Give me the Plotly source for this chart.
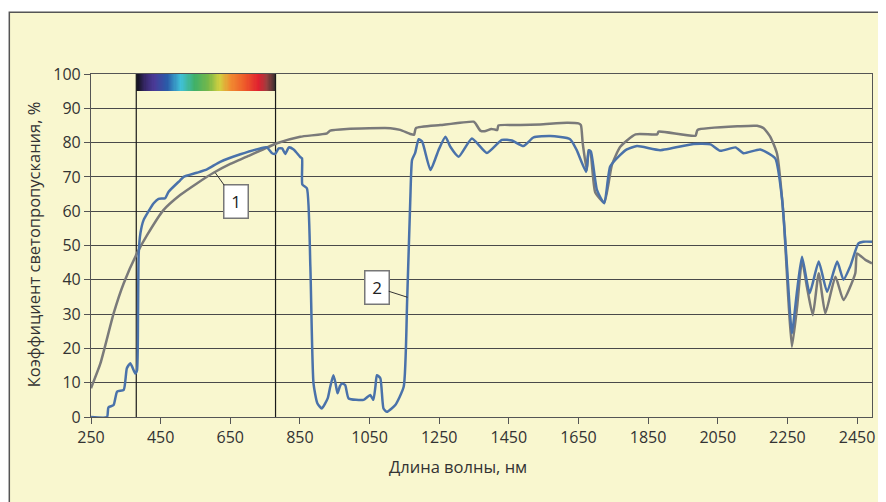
import plotly.graph_objects as go
import numpy as np

# Curve 1 (gray)
x1 = [250, 277, 315, 344, 382, 411, 458, 506, 554, 602, 650, 698, 784, 851, 928, 937, 985,
      1110, 1138, 1167, 1178, 1183, 1253, 1349, 1355, 1368, 1380, 1400, 1410, 1417, 1420,
      1483, 1540, 1617, 1650, 1657, 1662, 1674, 1679, 1684, 1698, 1724, 1746, 1770, 1814,
      1876, 1880, 1986, 1992, 2115, 2163, 2182, 2201, 2220, 2239, 2253, 2263, 2278, 2292,
      2306, 2323, 2340, 2359, 2388, 2411, 2445, 2450, 2474, 2493]
y1 = [8.4, 15.6, 30.2, 39.0, 47.7, 53.0, 60.3, 64.7, 68.1, 71.2, 73.8, 75.9, 79.8, 81.7, 82.7, 83.5, 84.0,
      84.2, 83.7, 82.5, 82.3, 84.2, 85.1, 86.1, 85.5, 83.5, 83.3, 84.0, 83.8, 83.7, 85.0,
      85.1, 85.3, 85.8, 85.6, 85.1, 80.0, 72.0, 77.8, 77.5, 65.5, 62.5, 73.5, 78.8, 82.4,
      82.4, 83.2, 82.0, 83.7, 84.8, 84.9, 84.2, 81.7, 76.9, 58.4, 34.0, 20.5, 32.2, 45.8,
      38.0, 29.7, 41.9, 30.2, 40.9, 34.1, 41.9, 47.7, 45.8, 44.8]

# Curve 2 (blue)
x2 = [250, 296, 300, 315, 325, 344, 353, 363, 377, 382, 385, 387, 392, 401, 430, 444, 463, 473,
      506, 516, 554, 583, 621, 679, 736, 755, 770, 779, 789, 799, 808, 818, 832, 851, 856, 857,
      870, 880, 889, 900, 913, 930, 937, 946, 952, 958, 965, 971, 980, 990, 1033, 1052, 1061,
      1067, 1071, 1081, 1090, 1100, 1124, 1148, 1158, 1167, 1172, 1181, 1191, 1201, 1225, 1248,
      1268, 1282, 1306, 1344, 1387, 1430, 1459, 1492, 1521, 1569, 1626, 1645, 1672, 1680, 1686,
      1703, 1724, 1741, 1770, 1789, 1818, 1885, 1981, 2029, 2057, 2101, 2124, 2172, 2215, 2235,
      2249, 2263, 2278, 2292, 2314, 2340, 2364, 2393, 2411, 2430, 2454, 2468, 2493]
y2 = [0.0, 0.0, 2.8, 3.5, 7.4, 7.9, 14.2, 15.7, 12.7, 13.5, 30.0, 47.7, 53.6, 57.4, 62.3, 63.6, 63.8, 65.7,
      69.0, 70.0, 71.2, 72.2, 74.4, 76.6, 78.3, 78.6, 76.9, 76.7, 78.3, 78.3, 76.7, 78.6, 78.0, 75.8, 75.4, 67.8,
      66.7, 43.8, 9.8, 4.0, 2.5, 5.5, 8.8, 12.2, 10.0, 6.9, 9.0, 9.8, 9.3, 5.4, 5.0, 6.4, 5.0,
      9.0, 12.2, 11.3, 2.5, 1.5, 3.5, 8.8, 34.1, 63.3, 74.9, 77.0, 81.0, 80.3, 72.0, 77.8,
      81.7, 78.8, 75.9, 81.2, 77.0, 80.8, 80.6, 79.0, 81.5, 81.9, 81.0, 77.8, 71.5, 77.8, 77.3,
      66.2, 62.3, 73.0, 76.4, 78.0, 79.0, 77.8, 79.6, 79.5, 77.6, 78.6, 76.9, 78.0, 75.4, 63.3,
      43.8, 24.4, 37.0, 46.7, 36.1, 45.3, 36.5, 45.3, 40.0, 43.8, 50.6, 51.1, 51.1]

x_ticks = [250, 450, 650, 850, 1050, 1250, 1450, 1650, 1850, 2050, 2250, 2450]
y_ticks = [0, 10, 20, 30, 40, 50, 60, 70, 80, 90, 100]
visible_range = [380, 780]
spectrum_band = [95, 100]

FONT = "Open Sans"
fig = go.Figure()

# visible range borders
for xv in visible_range:
    fig.add_trace(go.Scatter(x=[xv, xv], y=[0, 100], mode="lines",
                             line=dict(color="#1a1a1a", width=1.2),
                             hoverinfo="skip", showlegend=False))

# spectrum bar
n = 120
edges = np.linspace(visible_range[0], visible_range[1], n + 1)
centers = (edges[:-1] + edges[1:]) / 2
zvals = (centers - visible_range[0]) / (visible_range[1] - visible_range[0])
cscale = [
    [0.0, "#111118"], [0.07, "#3a2a70"], [0.13, "#4a3a98"], [0.22, "#2a5aa8"],
    [0.32, "#40c0d8"], [0.42, "#40b068"], [0.52, "#78b848"], [0.60, "#d4d040"],
    [0.68, "#f08a30"], [0.78, "#ee5a2a"], [0.88, "#e02030"], [0.94, "#984040"],
    [1.0, "#3a3030"],
]
fig.add_trace(go.Heatmap(x=edges, y=spectrum_band, z=[zvals], colorscale=cscale,
                         zmin=0, zmax=1, showscale=False, hoverinfo="skip"))

fig.add_trace(go.Scatter(x=x1, y=y1, mode="lines", line=dict(color="#7a7a7a", width=2.5,
                         shape="spline", smoothing=0.5), showlegend=False))
fig.add_trace(go.Scatter(x=x2, y=y2, mode="lines", line=dict(color="#4a72aa", width=2.5,
                         shape="spline", smoothing=0.5), showlegend=False))

axis_common = dict(showline=True, linecolor="#555555", linewidth=1.2, mirror=True,
                   ticks="outside", ticklen=6, tickcolor="#555555",
                   tickfont=dict(family=FONT, size=16, color="#333333"), zeroline=False)

fig.update_xaxes(range=[250, 2493], tickvals=x_ticks, ticktext=[str(v) for v in x_ticks],
                 showgrid=False, **axis_common)
fig.update_yaxes(range=[0, 100], tickvals=y_ticks, showgrid=True, gridcolor="#4a4a4a",
                 gridwidth=1, **axis_common)

fig.update_layout(
    width=878, height=494,
    margin=dict(l=83, r=14, t=66, b=85),
    paper_bgcolor="white",
    plot_bgcolor="#f3f2aa",
    shapes=[dict(type="rect", xref="paper", yref="paper", x0=-0.1046, x1=1.03, y0=-0.3, y1=1.18,
                 fillcolor="#f9f7cf", line=dict(color="#555555", width=1.5), layer="below")],
    annotations=[
        dict(text="Коэффициент светопропускания, %", xref="paper", yref="paper",
             x=-0.074, y=0.504, xanchor="center", yanchor="middle", textangle=-90,
             showarrow=False, font=dict(family=FONT, size=16.5, color="#333333")),
        dict(text="Длина волны, нм", xref="paper", yref="paper", x=0.47, y=-0.143,
             xanchor="center", yanchor="middle",
             showarrow=False, font=dict(family=FONT, size=16.5, color="#333333")),
        dict(text="1", x=607, y=71.2, ax=667, ay=62.7, axref="x", ayref="y",
             showarrow=True, arrowhead=0, arrowwidth=1, arrowcolor="#333333",
             bgcolor="white", bordercolor="#777777", borderwidth=1.5, width=21, height=30,
             font=dict(family=FONT, size=17, color="#222222")),
        dict(text="2", x=1159, y=34.9, ax=1070, ay=37.8, axref="x", ayref="y",
             showarrow=True, arrowhead=0, arrowwidth=1, arrowcolor="#333333",
             bgcolor="white", bordercolor="#777777", borderwidth=1.5, width=21, height=30,
             font=dict(family=FONT, size=17, color="#222222")),
    ],
)

fig.write_html("out.html")
